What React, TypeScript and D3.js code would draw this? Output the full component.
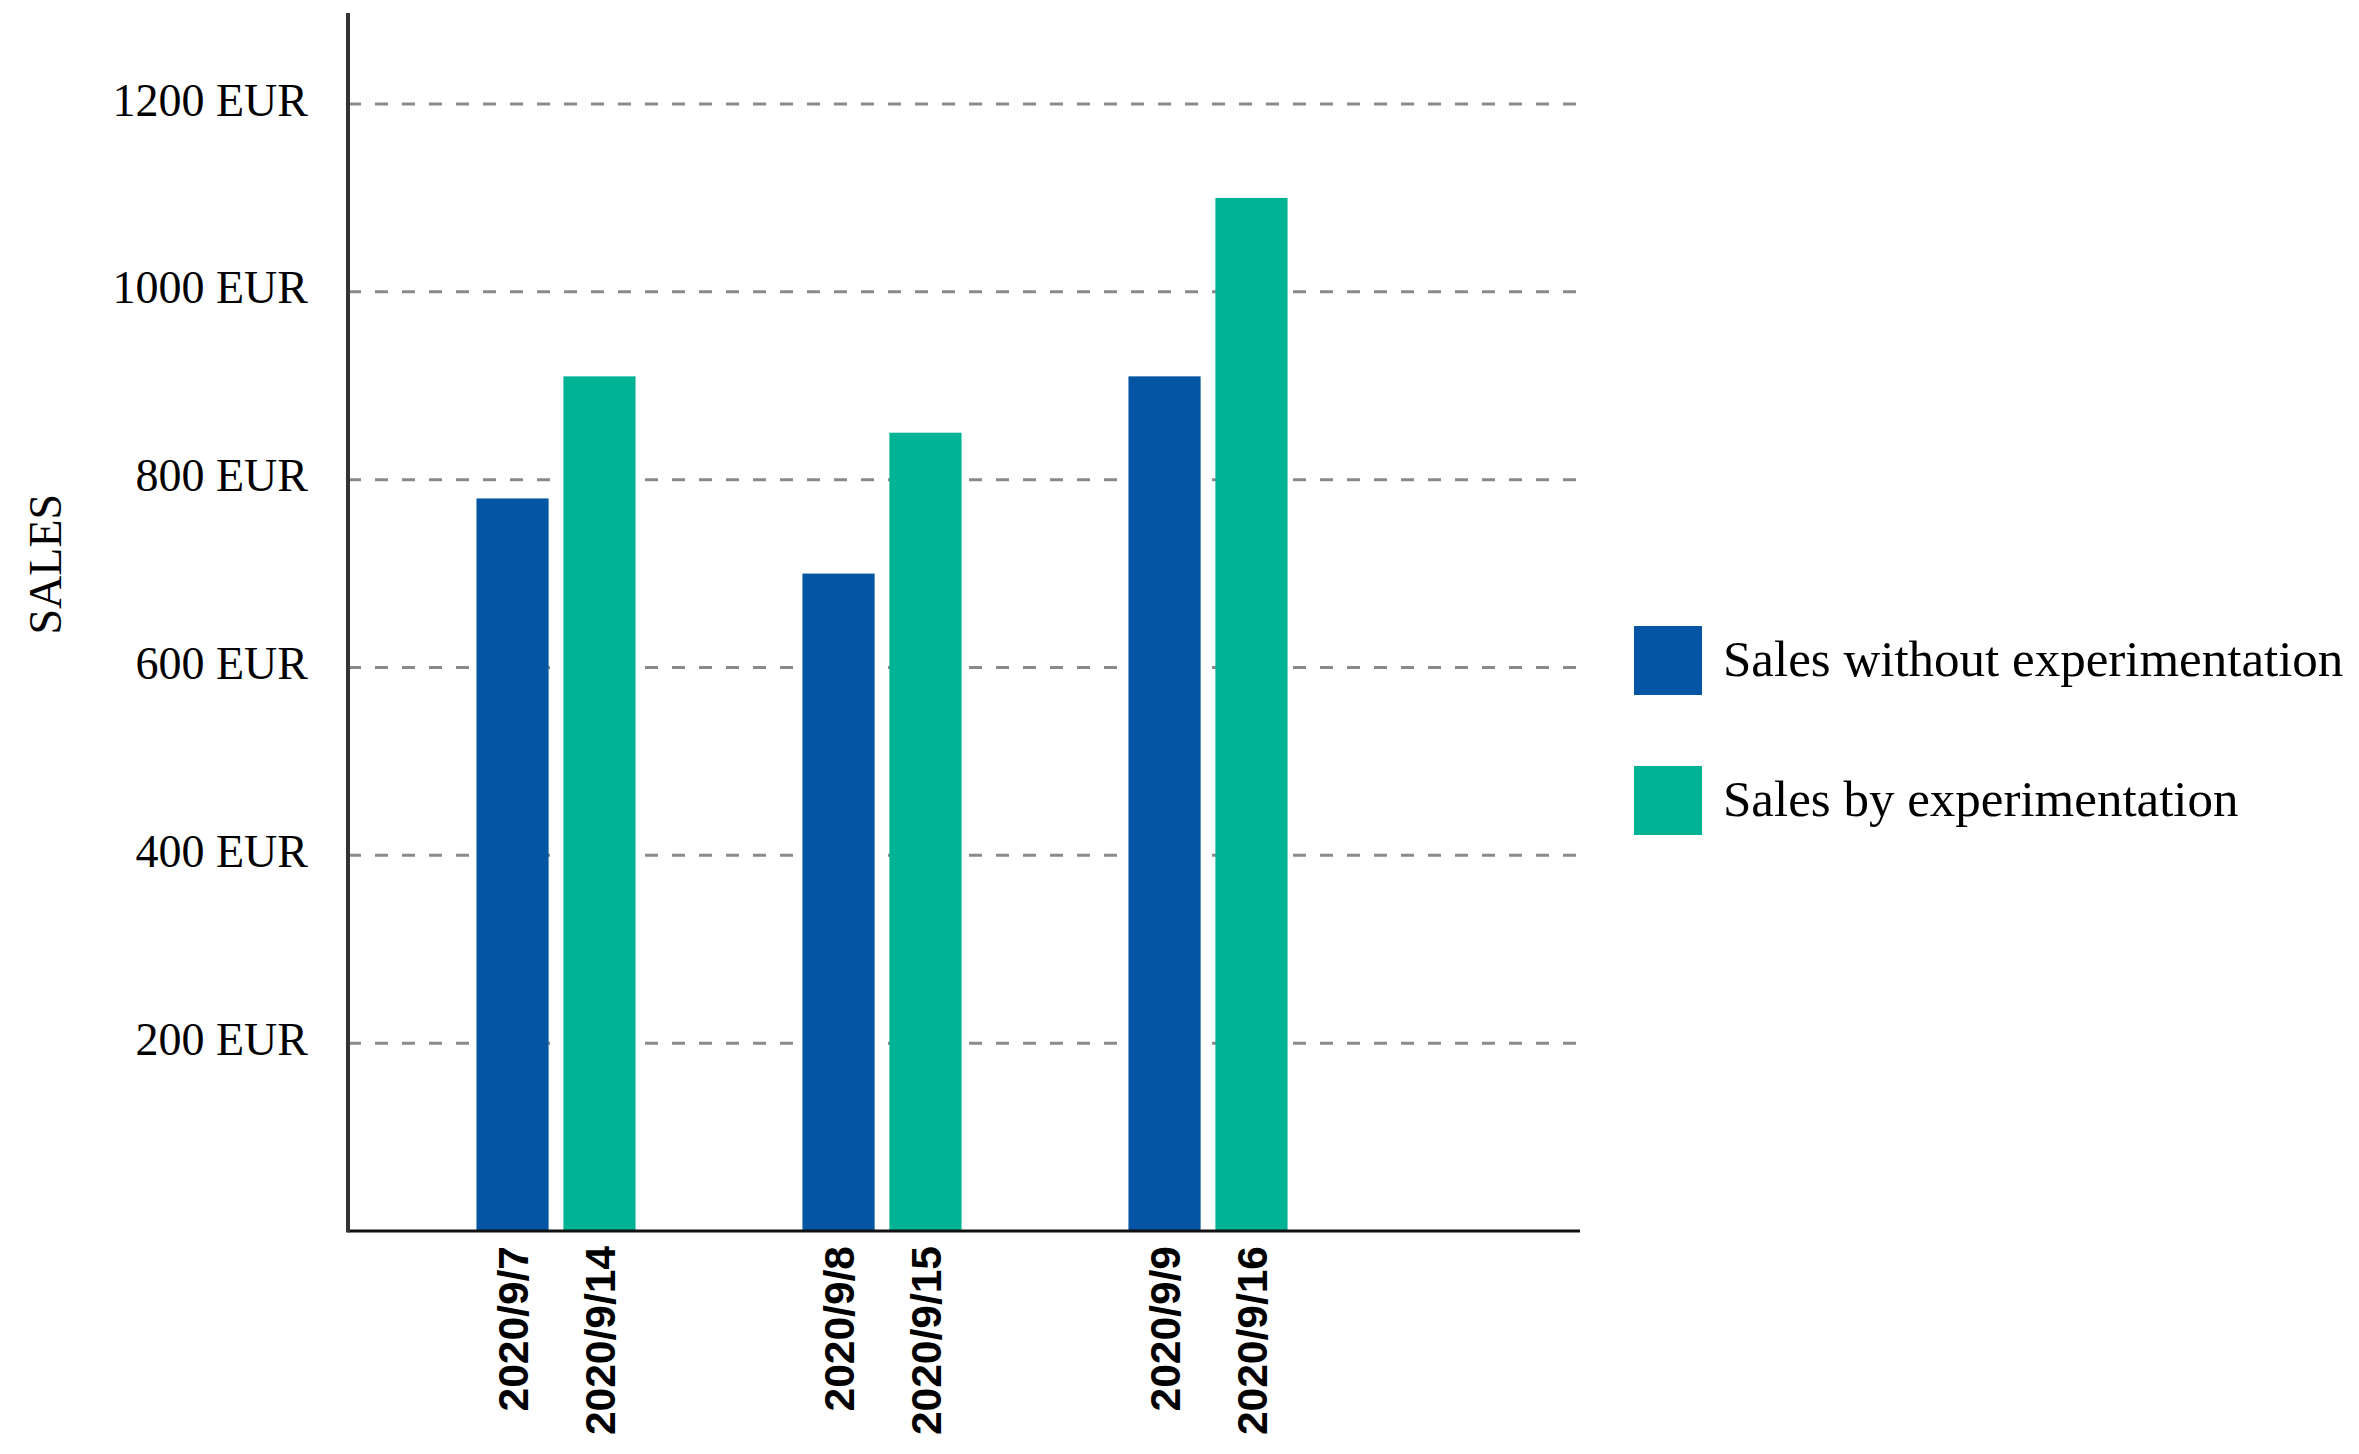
import React from "react";
import * as d3 from "d3";

const groups = ["g1", "g2", "g3"];
const seriesKeys = ["without", "by"];
const seriesNames = ["Sales without experimentation", "Sales by experimentation"];
const seriesColors = ["#0455a3", "#00b395"];
const salesWithout = [780, 700, 910];
const salesBy = [910, 850, 1100];
const dateLabelsWithout = ["2020/9/7", "2020/9/8", "2020/9/9"];
const dateLabelsBy = ["2020/9/14", "2020/9/15", "2020/9/16"];
const yTicks = [200, 400, 600, 800, 1000, 1200];
const yAxisTitle = "SALES";

const W = 2359;
const H = 1454;

export default function App() {
  const x0 = 348;
  const x1 = 1580;
  const yBase = 1231;
  const yTop = 104;

  const y = d3.scaleLinear().domain([0, 1200]).range([yBase, yTop]);
  const gx = d3
    .scaleBand<string>()
    .domain(groups)
    .range([393, 1371])
    .paddingInner(0.512)
    .paddingOuter(0.256);
  const sx = d3
    .scaleBand<string>()
    .domain(seriesKeys)
    .range([0, gx.bandwidth()])
    .paddingInner(0.17);

  const values = [salesWithout, salesBy];
  const labels = [dateLabelsWithout, dateLabelsBy];

  return (
    <svg
      width={W}
      height={H}
      style={{ position: "absolute", left: 0, top: 0, display: "block", background: "#fff" }}
    >
      {/* gridlines */}
      {yTicks.map((t) => (
        <line
          key={"g" + t}
          x1={x0}
          x2={x1}
          y1={y(t)}
          y2={y(t)}
          stroke="#8a8a8a"
          strokeWidth={3}
          strokeDasharray="13 14"
        />
      ))}
      {/* bars */}
      {groups.map((g, gi) =>
        seriesKeys.map((s, si) => {
          const bx = (gx(g) as number) + (sx(s) as number);
          const v = values[si][gi];
          return (
            <rect
              key={g + s}
              x={bx}
              y={y(v)}
              width={sx.bandwidth()}
              height={y(0) - y(v)}
              fill={seriesColors[si]}
            />
          );
        })
      )}
      {/* x labels */}
      {groups.map((g, gi) =>
        seriesKeys.map((s, si) => {
          const cx = (gx(g) as number) + (sx(s) as number) + sx.bandwidth() / 2;
          const ly = yBase + 15;
          return (
            <text
              key={"l" + g + s}
              transform={`translate(${cx},${ly}) rotate(-90)`}
              textAnchor="end"
              dy="0.36em"
              fontFamily="'Liberation Sans', Arial, sans-serif"
              fontWeight="bold"
              fontSize={42.5}
              fill="#000"
            >
              {labels[si][gi]}
            </text>
          );
        })
      )}
      {/* baseline */}
      <line x1={x0} x2={x1} y1={yBase} y2={yBase} stroke="#111" strokeWidth={3} />
      {/* y axis */}
      <line x1={x0} x2={x0} y1={y(1297)} y2={yBase + 1.5} stroke="#333" strokeWidth={4} />
      {/* y tick labels */}
      {yTicks.map((t) => (
        <text
          key={"t" + t}
          x={308}
          y={y(t)}
          dy="0.25em"
          textAnchor="end"
          fontFamily="'Liberation Serif', 'Times New Roman', serif"
          fontSize={46}
          fill="#000"
        >
          {t} EUR
        </text>
      ))}
      {/* y axis title */}
      <text
        transform={`translate(45,${y(710)}) rotate(-90)`}
        textAnchor="middle"
        dy="0.35em"
        fontFamily="'Liberation Serif', 'Times New Roman', serif"
        fontSize={46}
        fill="#000"
      >
        {yAxisTitle}
      </text>
      {/* legend */}
      {seriesNames.map((name, i) => {
        const top = 626 + i * 140;
        return (
          <g key={"lg" + i}>
            <rect x={1634} y={top} width={68} height={69} fill={seriesColors[i]} />
            <text
              x={1723}
              y={top + 34.5}
              dy="0.31em"
              fontFamily="'Liberation Serif', 'Times New Roman', serif"
              fontSize={51}
              fill="#000"
            >
              {name}
            </text>
          </g>
        );
      })}
    </svg>
  );
}
